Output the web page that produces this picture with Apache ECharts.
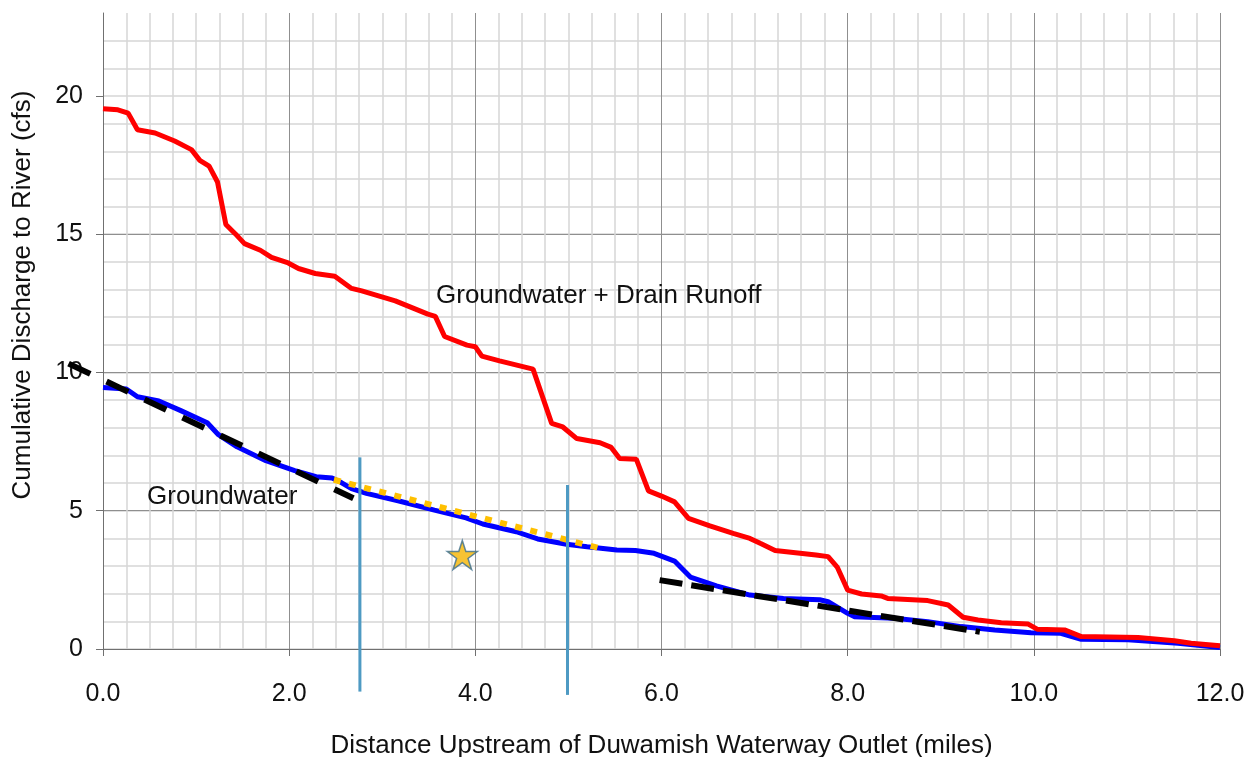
<!DOCTYPE html>
<html>
<head>
<meta charset="utf-8">
<script src="https://cdn.jsdelivr.net/npm/echarts@6/dist/echarts.min.js"></script>
<style>
html,body{margin:0;padding:0;background:#fff;}
#chart{width:1248px;height:757px;}
</style>
</head>
<body>
<div id="chart"></div>
<script>
// ---- data ----
const gwX = [0,0.25,0.37,0.6,0.83,1.12,1.24,1.44,1.75,2.06,2.29,2.46,2.56,2.67,2.83,3.17,3.56,3.9,4.08,4.44,4.67,4.98,5.2,5.52,5.72,5.92,6.14,6.31,6.59,6.95,7.31,7.7,7.79,8.0,8.07,8.5,8.86,9.22,9.58,9.97,10.29,10.51,11.01,11.55,12.0];
const gwY = [9.46,9.40,9.12,8.97,8.63,8.18,7.75,7.31,6.81,6.45,6.23,6.18,6.02,5.80,5.63,5.36,5.02,4.74,4.52,4.24,3.98,3.79,3.70,3.58,3.56,3.46,3.18,2.60,2.28,1.95,1.83,1.78,1.71,1.29,1.17,1.11,0.99,0.81,0.69,0.59,0.57,0.35,0.33,0.21,0.05];
const totX = [0,0.16,0.27,0.37,0.56,0.77,0.95,1.04,1.14,1.23,1.32,1.42,1.52,1.69,1.81,1.99,2.10,2.28,2.49,2.67,2.78,3.14,3.49,3.57,3.67,3.91,4.0,4.07,4.26,4.62,4.82,4.94,5.09,5.34,5.46,5.55,5.73,5.86,6.0,6.14,6.29,6.52,6.77,6.95,7.06,7.22,7.66,7.79,7.89,8.0,8.15,8.36,8.43,8.86,9.08,9.24,9.40,9.65,9.94,10.04,10.33,10.51,11.12,11.51,11.69,12.0];
const totY = [19.54,19.50,19.38,18.78,18.66,18.37,18.06,17.67,17.46,16.89,15.35,15.02,14.66,14.42,14.16,13.96,13.76,13.58,13.48,13.04,12.95,12.59,12.11,12.03,11.30,10.99,10.93,10.59,10.42,10.12,8.16,8.03,7.61,7.46,7.29,6.89,6.86,5.72,5.53,5.32,4.72,4.45,4.18,4.0,3.82,3.56,3.40,3.34,2.95,2.13,1.99,1.92,1.83,1.75,1.59,1.15,1.05,0.95,0.90,0.71,0.69,0.45,0.42,0.30,0.21,0.12];
const trend1 = [[-0.37,10.32],[2.69,5.45]];
const trend2 = [[5.98,2.49],[9.42,0.62]];
const dotted = [[2.48,6.12],[5.35,3.63]];
const vline1 = [[2.76,6.93],[2.76,-1.54]];
const vline2 = [[4.99,5.93],[4.99,-1.66]];
const star = [[3.86,3.40]];
const xTicks = [0,2,4,6,8,10,12];
const yTicks = [0,5,10,15,20];
const labels = {total:'Groundwater + Drain Runoff', gw:'Groundwater'};
const xTitle = 'Distance Upstream of Duwamish Waterway Outlet (miles)';
const yTitle = 'Cumulative Discharge to River (cfs)';

const zip = (xs, ys) => xs.map((x,i)=>[x, ys[i]]);
const FONT = "'Liberation Sans', Arial, sans-serif";
const starPath = 'path://M100,0 L122.45,69.1 L195.1,69.1 L136.3,111.8 L158.8,180.9 L100,138.2 L41.2,180.9 L63.7,111.8 L4.9,69.1 L77.55,69.1 Z';

const chart = echarts.init(document.getElementById('chart'), null, {renderer:'canvas'});
chart.setOption({
  animation: false,
  backgroundColor: '#ffffff',
  grid: {left:103, right:28, top:13, bottom:108, containLabel:false, outerBoundsMode:'none'},
  xAxis: {
    type:'value', min:0, max:12, interval:2,
    axisLine:{show:true, onZero:false, lineStyle:{color:'#707070', width:1}},
    axisTick:{show:true, length:7, lineStyle:{color:'#707070'}},
    axisLabel:{margin:33, fontSize:25, color:'#111', fontFamily:FONT, formatter:v=>v.toFixed(1)},
    splitLine:{show:true, lineStyle:{color:'#8f8f8f', width:1}},
    minorTick:{show:false, splitNumber:8},
    minorSplitLine:{show:true, lineStyle:{color:'#d6d6d6', width:1.5}},
    name: xTitle, nameLocation:'middle', nameGap:84,
    nameTextStyle:{fontSize:26, color:'#111', fontFamily:FONT}
  },
  yAxis: [
    {
      type:'value', min:0, max:23, interval:1,
      axisLine:{show:false}, axisTick:{show:false}, axisLabel:{show:false},
      splitLine:{show:true, showMaxLine:false, lineStyle:{color:'#d6d6d6', width:1.5}}
    },
    {
      type:'value', min:0, max:23, interval:5, position:'left',
      axisLine:{show:true, onZero:false, lineStyle:{color:'#707070', width:1}},
      axisTick:{show:true, length:7, customValues:yTicks, lineStyle:{color:'#707070'}},
      axisLabel:{margin:20, fontSize:25, color:'#111', fontFamily:FONT, customValues:yTicks},
      splitLine:{show:true, showMaxLine:false, lineStyle:{color:'#8f8f8f', width:1}}
    }
  ],
  graphic: [
    {type:'text', id:'ytitle', x:23, y:295, rotation:Math.PI/2, style:{text:yTitle, font:'26px '+FONT, fill:'#111', align:'center', verticalAlign:'middle'}},
    {type:'text', id:'lblTotal', x:436, y:296, style:{text:labels.total, font:'26px '+FONT, fill:'#111', align:'left', verticalAlign:'middle'}, z:10},
    {type:'text', id:'lblGw', x:147, y:497, style:{text:labels.gw, font:'26px '+FONT, fill:'#111', align:'left', verticalAlign:'middle'}, z:10}
  ],
  series: [
    {type:'line', name:'gw', data:zip(gwX,gwY), yAxisIndex:1, symbol:'none', lineStyle:{color:'#0000ff', width:5}, z:3},
    {type:'line', name:'total', data:zip(totX,totY), yAxisIndex:1, symbol:'none', lineStyle:{color:'#ff0000', width:5}, z:4},
    {type:'line', name:'dotted', data:dotted, yAxisIndex:1, symbol:'none', lineStyle:{color:'#ffc000', width:6, type:[7,8.6], cap:'butt'}, z:5},
    {type:'line', name:'trend2', data:trend2, yAxisIndex:1, symbol:'none', clip:false, lineStyle:{color:'#000000', width:6, type:[23,9], cap:'butt'}, z:6},
    {type:'line', name:'v1', data:vline1, yAxisIndex:1, symbol:'none', clip:false, lineStyle:{color:'#4e9ac3', width:3}, z:7},
    {type:'line', name:'v2', data:vline2, yAxisIndex:1, symbol:'none', clip:false, lineStyle:{color:'#4e9ac3', width:3}, z:7},
    {type:'scatter', name:'star', data:star, yAxisIndex:1, symbol:starPath, symbolSize:[30,29], itemStyle:{color:'#f5b400', borderColor:'#3b6e8f', borderWidth:1.5}, z:8}
  ]
});

// trend line 1 extends left of the y axis: place it with the library's own scale
const t1px = trend1.map(p => chart.convertToPixel({xAxisIndex:0, yAxisIndex:1}, p));
chart.setOption({
  graphic: [
    {type:'polyline', id:'trend1', z:60, shape:{points:t1px},
     style:{stroke:'#000000', lineWidth:6, lineDash:[24,18], lineCap:'butt', fill:null}}
  ]
});
</script>
</body>
</html>
